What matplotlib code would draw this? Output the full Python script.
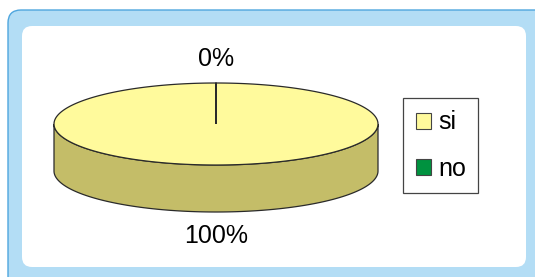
import matplotlib
matplotlib.use('Agg')
import matplotlib.pyplot as plt
from matplotlib.patches import FancyBboxPatch, Polygon, Patch
import numpy as np

labels = ['si', 'no']
values = [100, 0]
top_colors = ['#FFFA9C', '#00923F']
side_colors = ['#C4BD68', '#006A2D']

plt.rcParams['font.family'] = ['Liberation Sans', 'DejaVu Sans']

W, H = 535, 277
fig = plt.figure(figsize=(W / 100, H / 100), dpi=100)
fig.patch.set_facecolor('white')

# blue frame + white panel (inches)
fig.patches.append(FancyBboxPatch((0.08, -0.3), 5.6, 2.97,
                                  boxstyle='round,pad=0,rounding_size=0.13',
                                  transform=fig.dpi_scale_trans, zorder=-10,
                                  facecolor='#B3DDF5', edgecolor='#4FA6DE', lw=1.0))
fig.patches.append(FancyBboxPatch((0.22, 0.10), 5.04, 2.41,
                                  boxstyle='round,pad=0,rounding_size=0.10',
                                  transform=fig.dpi_scale_trans, zorder=-9,
                                  facecolor='white', edgecolor='none'))

# pie geometry (pixels)
cx, cy, rx, ry, depth = 216, 124, 162, 41, 47
ax = fig.add_axes([0, 0, 1, 1])
ax.set_xlim(-cx / rx, (W - cx) / rx)
ax.set_ylim(-(H - cy) / rx, cy / rx)
ax.axis('off')
k = ry / rx
d = depth / rx

total = float(sum(values))
start = 90.0
spans = []
for v in values:
    span = v / total * 360.0
    spans.append((start - span, start))
    start -= span

edge = '#2A2A2A'

# side walls (front half only)
for (lo, hi), col in zip(spans, side_colors):
    if hi - lo <= 0:
        continue
    for base in range(-720, 721, 360):
        a = max(lo, base + 180)
        b = min(hi, base + 360)
        if b <= a:
            continue
        t = np.radians(np.linspace(a, b, 200))
        xs = np.cos(t)
        ys = k * np.sin(t)
        px = np.concatenate([xs, xs[::-1]])
        py = np.concatenate([ys, ys[::-1] - d])
        ax.add_patch(Polygon(np.column_stack([px, py]), closed=True,
                             facecolor=col, edgecolor=edge, lw=0.9, zorder=2))

# top face
for (lo, hi), col in zip(spans, top_colors):
    if hi - lo <= 0:
        continue
    t = np.radians(np.linspace(hi, lo, 400))
    xs = np.concatenate([[0], np.cos(t), [0]])
    ys = np.concatenate([[0], k * np.sin(t), [0]])
    ax.add_patch(Polygon(np.column_stack([xs, ys]), closed=True,
                         facecolor=col, edgecolor=edge, lw=0.9, zorder=3))

# percentage labels
off = 24 / rx
for (lo, hi), v in zip(spans, values):
    mid = np.radians((lo + hi) / 2)
    sx, sy = np.cos(mid), np.sin(mid)
    x = sx * (1 + off)
    y = k * sy + (off if sy >= 0 else -off - d) * abs(sy)
    ax.text(x, y, f'{v / total * 100:.0f}%', ha='center', va='center',
            fontsize=18, color='black', zorder=4)

handles = [Patch(facecolor=c, edgecolor='#444444', lw=0.8) for c in top_colors]
leg = fig.legend(handles, labels, loc='upper left',
                 bbox_to_anchor=(403 / W, 1 - 98 / H), bbox_transform=fig.transFigure,
                 fontsize=18, frameon=True, fancybox=False, shadow=False,
                 framealpha=1, edgecolor='#444444', borderaxespad=0,
                 borderpad=0.5, labelspacing=0.9, handlelength=0.6,
                 handleheight=0.6, handletextpad=0.3)
leg.get_frame().set_linewidth(0.9)

fig.savefig('out.png', dpi=100)
